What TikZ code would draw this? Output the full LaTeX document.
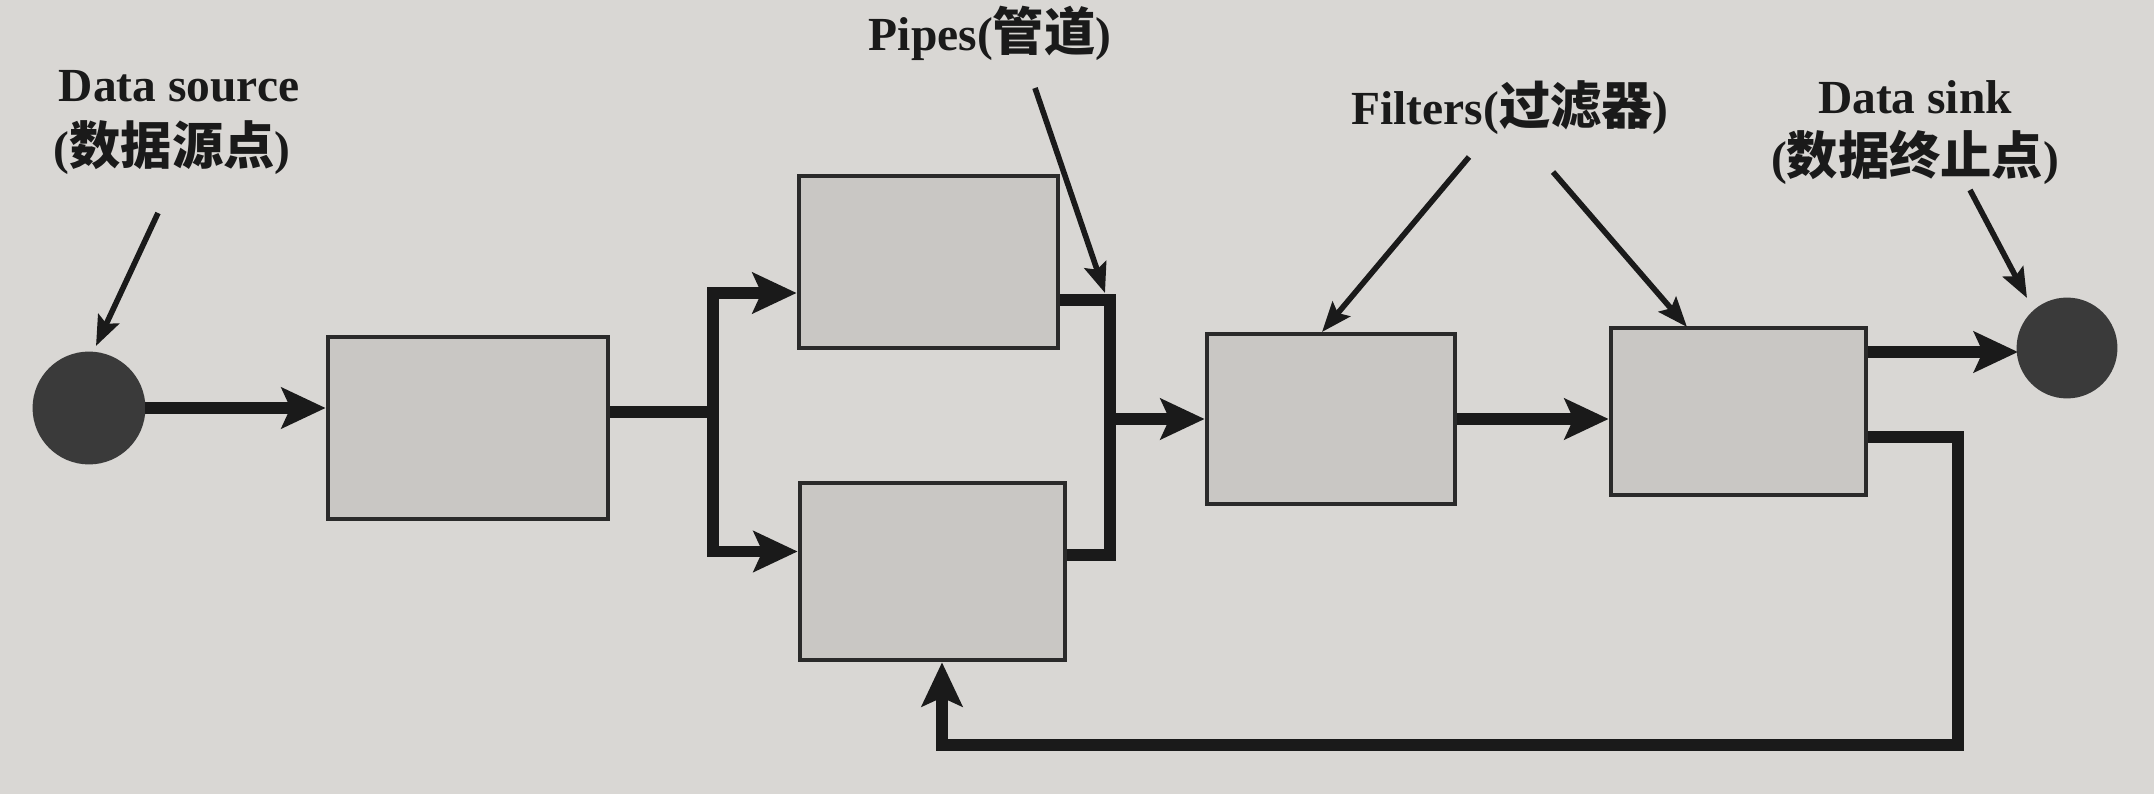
\documentclass[tikz,border=0pt]{standalone}
\usepackage{fontspec}
\setmainfont{Liberation Serif}
\newfontfamily\cjk{Noto Sans CJK SC}[Scale=1.08]
\usetikzlibrary{arrows.meta,calc}
\definecolor{bg}{HTML}{D9D7D4}
\definecolor{boxfill}{HTML}{C9C7C4}
\definecolor{boxline}{HTML}{2A2A2A}
\definecolor{dotfill}{HTML}{3A3A3A}
\definecolor{ink}{HTML}{1A1A1A}
\begin{document}
\begin{tikzpicture}[x=0.01cm,y=-0.01cm,
  fbox/.style 2 args={draw=boxline,fill=boxfill,line width=1.3pt,inner sep=0pt,
    minimum width=#1,minimum height=#2},
  endpt/.style={circle,draw=dotfill,fill=dotfill,inner sep=0pt,line width=0.8pt},
  pipe/.style={draw=ink,line width=3.3pt,line join=miter},
  bigtip/.tip={Stealth[length=12.5pt,width=11.5pt,inset=2.5pt]},
  pointer/.style={draw=ink,line width=1.6pt,-{Stealth[length=8.5pt,width=6.5pt,inset=1.5pt]}},
  lbl/.style={text=ink,inner sep=0pt,font=\fontsize{13.5}{16}\selectfont\bfseries}]
\fill[bg] (0,0) rectangle (2154,794);
\useasboundingbox (0,0) rectangle (2154,794);

% boxes
\node[fbox={2.80cm}{1.82cm}] (b1) at (468,428) {};
\node[fbox={2.59cm}{1.72cm}] (b2) at (928.5,262) {};
\node[fbox={2.65cm}{1.77cm}] (b3) at (932.5,571.5) {};
\node[fbox={2.48cm}{1.70cm}] (b4) at (1331,419) {};
\node[fbox={2.55cm}{1.67cm}] (b5) at (1738.5,411.5) {};
\node[endpt,minimum size=1.10cm] (src) at (89,408) {};
\node[endpt,minimum size=0.98cm] (sink) at (2067,348) {};

% labels
\node[lbl] (srclbl) at (179,86) {Data source};
\node[lbl] (srclbl2) at (172,148) {({\cjk 数据源点})};
\node[lbl] (pipelbl) at (990,33) {Pipes({\cjk 管道})};
\node[lbl] (filtlbl) at (1510,108) {Filters({\cjk 过滤器})};
\node[lbl] (sinklbl) at (1915,97) {Data sink};
\node[lbl] (sinklbl2) at (1915,157) {({\cjk 数据终止点})};

% connectors
\draw[pipe,-bigtip] (src.east) -- (src.east -| b1.west);
\coordinate (split) at (713,412);
\draw[pipe] (b1.east |- split) -- (split);
\draw[pipe,-bigtip] (split) |- ($(b2.west)+(0,31)$);
\draw[pipe,-bigtip] (split) |- ($(b3.west)+(0,-20)$);
\coordinate (mergeT) at (1110,300);
\coordinate (mergeB) at (1110,555);
\coordinate (merge) at (1110,419);
\draw[pipe] (b2.east |- mergeT) -- (mergeT) -- (mergeB) -- (b3.east |- mergeB);
\draw[pipe,-bigtip] (merge) -- (merge -| b4.west);
\draw[pipe,-bigtip] (b4.east) -- (b4.east -| b5.west);
\coordinate (sinkin) at (2018,352);
\draw[pipe,-bigtip] (b5.east |- sinkin) -- (sinkin);
\coordinate (fbR) at (1958,437);
\coordinate (fbB) at (1958,745);
\coordinate (fbL) at (942,745);
\draw[pipe,-bigtip] (b5.east |- fbR) -- (fbR) -- (fbB) -- (fbL) -- (fbL |- b3.south);

% pointers
\coordinate (pA1) at (158,213); \coordinate (pA2) at (96,346);
\coordinate (pB1) at (1035,88); \coordinate (pB2) at (1105,293);
\coordinate (pC1) at (1469,157); \coordinate (pC2) at (1322,332);
\coordinate (pD1) at (1553,172); \coordinate (pD2) at (1687,327);
\coordinate (pE1) at (1970,190); \coordinate (pE2) at (2027,298);
\draw[pointer] (pA1) -- (pA2);
\draw[pointer] (pB1) -- (pB2);
\draw[pointer] (pC1) -- (pC2);
\draw[pointer] (pD1) -- (pD2);
\draw[pointer] (pE1) -- (pE2);
\end{tikzpicture}
\end{document}
